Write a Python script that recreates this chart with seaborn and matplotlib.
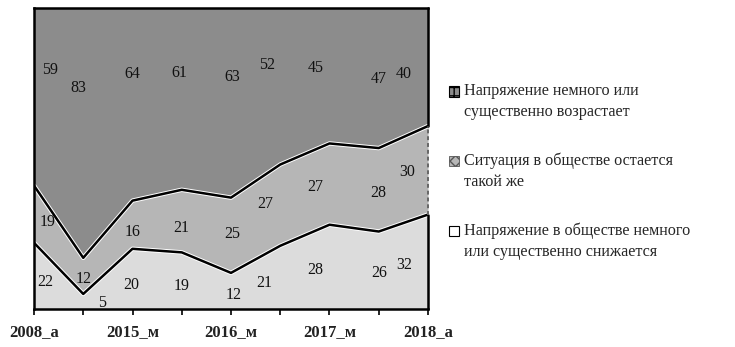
import numpy as np
import pandas as pd
import matplotlib
matplotlib.use("Agg")
import matplotlib.pyplot as plt
from matplotlib.patches import Patch
import seaborn as sns

periods = ["2008_а", "2014_а", "2015_м", "2015_а", "2016_м", "2016_а", "2017_м", "2017_а", "2018_а"]
tick_labels = ["2008_а", "2015_м", "2016_м", "2017_м", "2018_а"]
decrease = [22, 5, 20, 19, 12, 21, 28, 26, 32]
same = [19, 12, 16, 21, 25, 27, 27, 28, 30]
increase = [59, 83, 64, 61, 63, 52, 45, 47, 40]
series_names = [
    "Напряжение немного или\nсущественно возрастает",
    "Ситуация в обществе остается\nтакой же",
    "Напряжение в обществе немного\nили существенно снижается",
]

# label placement (x offset in steps, y as fraction of axis height)
lab_dx_top = [0.33, -0.1, 0.0, -0.05, 0.02, -0.27, -0.28, 0.0, -0.5]
lab_y_top = [0.795, 0.735, 0.78, 0.785, 0.77, 0.81, 0.80, 0.765, 0.78]
lab_dx_mid = [0.27, 0.0, 0.0, 0.0, 0.02, -0.3, -0.28, 0.0, -0.42]
lab_y_mid = [0.29, 0.10, 0.255, 0.27, 0.25, 0.35, 0.405, 0.385, 0.455]
lab_dx_bot = [0.22, 0.38, -0.02, 0.0, 0.06, -0.32, -0.28, 0.0, -0.48]
lab_y_bot = [0.09, 0.02, 0.08, 0.075, 0.045, 0.085, 0.13, 0.12, 0.145]

sns.set_theme(style="white")
plt.rcParams["font.family"] = ["Liberation Serif", "DejaVu Serif"]

df = pd.DataFrame({"period": periods, "decrease": decrease, "same": same, "increase": increase})
df["x"] = np.arange(len(df))
tot = df[["decrease", "same", "increase"]].sum(axis=1)
b1 = df["decrease"] / tot * 100
b2 = (df["decrease"] + df["same"]) / tot * 100
b3 = b2 * 0 + 100

fig = plt.figure(figsize=(7.35, 3.47), dpi=100)
ax = fig.add_axes([34 / 735, 1 - 309 / 347, (428 - 34) / 735, (309 - 8) / 347])

x = df["x"].values
ax.fill_between(x, b2, b3, color="#8c8c8c", lw=0)
ax.fill_between(x, b1, b2, color="#b6b6b6", lw=0)
ax.fill_between(x, 0, b1, color="#dcdcdc", lw=0)
sns.lineplot(x=x, y=b2.values, ax=ax, color="white", lw=3.2)
sns.lineplot(x=x, y=b1.values, ax=ax, color="white", lw=3.2)
sns.lineplot(x=x, y=b2.values, ax=ax, color="black", lw=1.8)
sns.lineplot(x=x, y=b1.values, ax=ax, color="black", lw=1.8)

ax.set_xlim(0, len(x) - 1)
ax.set_ylim(0, 100)
ax.set_yticks([])
ax.set_xticks(x)
ax.set_xticklabels([p if p in tick_labels else "" for p in periods],
                   fontsize=12, fontweight="bold", color="#222222")
ax.tick_params(axis="x", direction="out", length=4, width=1.2, color="black", pad=7, bottom=True)
for s in ["left", "bottom", "top"]:
    ax.spines[s].set_color("black")
    ax.spines[s].set_linewidth(1.8)
ax.spines["right"].set_visible(False)
# right edge: solid on dark/light bands, dashed on middle band
ax.plot([x[-1], x[-1]], [b2.iloc[-1], 100], color="black", lw=1.8, clip_on=False)
ax.plot([x[-1], x[-1]], [0, b1.iloc[-1]], color="black", lw=1.8, clip_on=False)
ax.plot([x[-1], x[-1]], [b1.iloc[-1], b2.iloc[-1]], color="#666666", lw=1.4, ls=(0, (2, 1.5)), clip_on=False)

for i in range(len(x)):
    ax.text(x[i] + lab_dx_top[i], lab_y_top[i] * 100, str(increase[i]), ha="center", va="center", fontsize=11.5, color="#111111")
    ax.text(x[i] + lab_dx_mid[i], lab_y_mid[i] * 100, str(same[i]), ha="center", va="center", fontsize=11.5, color="#111111")
    ax.text(x[i] + lab_dx_bot[i], lab_y_bot[i] * 100, str(decrease[i]), ha="center", va="center", fontsize=11.5, color="#111111")

handles = [
    Patch(facecolor="#8c8c8c", edgecolor="black", hatch="++", lw=0.8),
    Patch(facecolor="#b6b6b6", edgecolor="#555555", hatch="xxx", lw=0.6),
    Patch(facecolor="white", edgecolor="black", lw=0.8),
]
leg = fig.legend(handles, series_names, loc="upper left", bbox_to_anchor=(449 / 735, 1 - 83 / 347),
                 frameon=False, fontsize=11.6, handlelength=0.6, handleheight=0.6, handletextpad=0.35,
                 labelspacing=2.0, borderaxespad=0, borderpad=0)
for t in leg.get_texts():
    t.set_linespacing(1.42)
for h in leg.legend_handles:
    h.set_y(h.get_y() + 7.5)

fig.savefig("out.png", dpi=100)
